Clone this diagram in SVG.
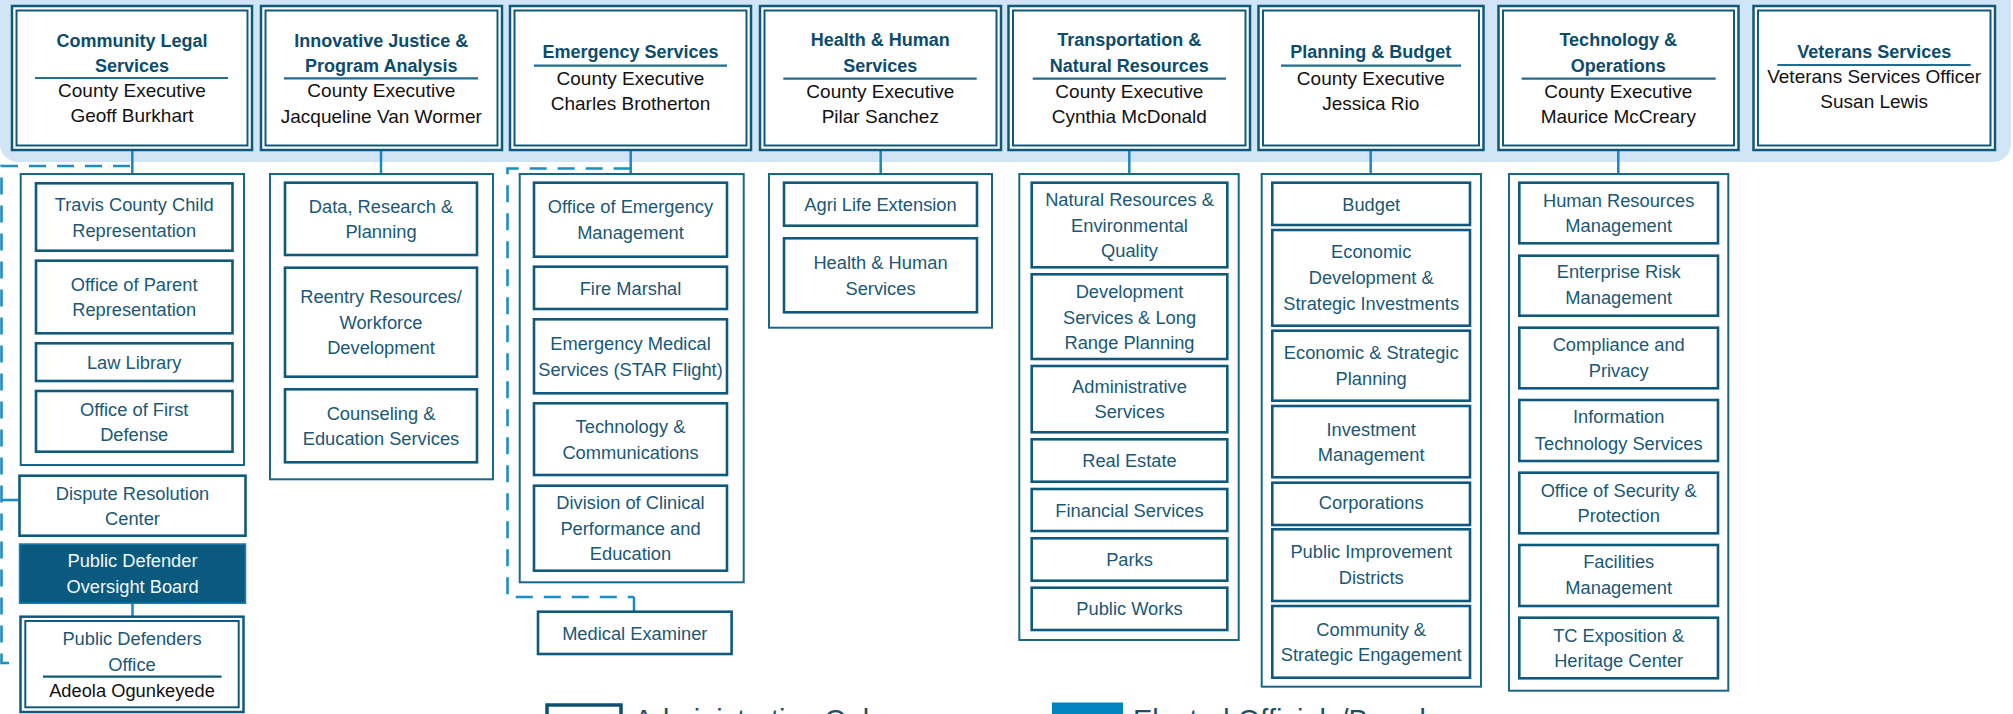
<svg xmlns="http://www.w3.org/2000/svg" width="2013" height="714" viewBox="0 0 2013 714">
<style>
text{font-family:"Liberation Sans",Arial,sans-serif;text-anchor:middle}
.ho{fill:#fff;stroke:#0f5a7c;stroke-width:2.5}
.hi{fill:#fff;stroke:#0f5a7c;stroke-width:2}
.ttl{font-size:18px;font-weight:bold;fill:#0d4c6b}
.ex{font-size:19px;fill:#111}
.ul{stroke:#1f6d8f;stroke-width:2.2}
.grp{fill:#fff;stroke:#18678a;stroke-width:2}
.ch{fill:#fff;stroke:#0f5a7c;stroke-width:2.6}
.ct{font-size:18.3px;fill:#1a5876}
.con{fill:none;stroke:#1b87bd;stroke-width:2.5}
.dash{fill:none;stroke:#1e8cc4;stroke-width:2.6;stroke-dasharray:17 11}
.blk{stroke:#111;stroke-width:2}
.lg{font-size:29px;fill:#1e4f66;text-anchor:start}
</style>
<rect id="band" x="0" y="-30" width="2011" height="192" rx="18" fill="#d2e5f6"/>
<g id="connectors">
<line class="con" x1="132.3" y1="150" x2="132.3" y2="174"/>
<line class="con" x1="381" y1="150" x2="381" y2="174"/>
<line class="con" x1="630.7" y1="150" x2="630.7" y2="174"/>
<line class="con" x1="880.7" y1="150" x2="880.7" y2="174"/>
<line class="con" x1="1129.3" y1="150" x2="1129.3" y2="174"/>
<line class="con" x1="1370.7" y1="150" x2="1370.7" y2="174"/>
<line class="con" x1="1618.3" y1="150" x2="1618.3" y2="174"/>
<path class="dash" d="M130,166 H1.5 V663 H20.5"/>
<line class="dash" x1="1.5" y1="500" x2="19.5" y2="500"/>
<path class="dash" d="M630.7,168.5 H507.5 V597 H634"/>
<line class="con" x1="634" y1="597" x2="634" y2="612"/>
<line class="con" x1="132.5" y1="603" x2="132.5" y2="617"/>
<line class="blk" x1="1618.7" y1="315.7" x2="1618.7" y2="327.7"/>
<line class="blk" x1="1618.7" y1="606" x2="1618.7" y2="617.7"/>
</g>
<g id="community-legal">
<rect class="ho" x="12" y="6" width="240" height="144"/><rect class="hi" x="16.5" y="10.5" width="231" height="135"/>
<text class="ttl" x="132" y="46.7">Community Legal</text><text class="ttl" x="132" y="71.7">Services</text>
<line class="ul" x1="35" y1="78" x2="228" y2="78"/>
<text class="ex" x="132" y="96.7">County Executive</text><text class="ex" x="132" y="122.3">Geoff Burkhart</text>
</g>
<g id="innovative-justice">
<rect class="ho" x="261" y="6" width="241" height="144"/><rect class="hi" x="265.5" y="10.5" width="232" height="135"/>
<text class="ttl" x="381.3" y="46.7">Innovative Justice &amp;</text><text class="ttl" x="381.3" y="71.7">Program Analysis</text>
<line class="ul" x1="284" y1="78.3" x2="478" y2="78.3"/>
<text class="ex" x="381.3" y="97">County Executive</text><text class="ex" x="381.3" y="122.5">Jacqueline Van Wormer</text>
</g>
<g id="emergency-services">
<rect class="ho" x="510" y="6" width="241" height="144"/><rect class="hi" x="514.5" y="10.5" width="232" height="135"/>
<text class="ttl" x="630.5" y="58.3">Emergency Services</text>
<line class="ul" x1="534" y1="65.7" x2="727" y2="65.7"/>
<text class="ex" x="630.5" y="85">County Executive</text><text class="ex" x="630.5" y="110">Charles Brotherton</text>
</g>
<g id="health-human-services">
<rect class="ho" x="760" y="6" width="241" height="144"/><rect class="hi" x="764.5" y="10.5" width="232" height="135"/>
<text class="ttl" x="880.3" y="46.3">Health &amp; Human</text><text class="ttl" x="880.3" y="71.7">Services</text>
<line class="ul" x1="783.3" y1="78.7" x2="976.7" y2="78.7"/>
<text class="ex" x="880.3" y="97.7">County Executive</text><text class="ex" x="880.3" y="122.7">Pilar Sanchez</text>
</g>
<g id="transportation">
<rect class="ho" x="1008.5" y="6" width="241.5" height="144"/><rect class="hi" x="1013" y="10.5" width="232.5" height="135"/>
<text class="ttl" x="1129.3" y="46.3">Transportation &amp;</text><text class="ttl" x="1129.3" y="71.7">Natural Resources</text>
<line class="ul" x1="1032.7" y1="78.7" x2="1226" y2="78.7"/>
<text class="ex" x="1129.3" y="97.7">County Executive</text><text class="ex" x="1129.3" y="122.7">Cynthia McDonald</text>
</g>
<g id="planning-budget">
<rect class="ho" x="1258.5" y="6" width="225" height="144"/><rect class="hi" x="1263" y="10.5" width="216" height="135"/>
<text class="ttl" x="1370.8" y="58.3">Planning &amp; Budget</text>
<line class="ul" x1="1281" y1="65.7" x2="1461" y2="65.7"/>
<text class="ex" x="1370.8" y="85">County Executive</text><text class="ex" x="1370.8" y="110">Jessica Rio</text>
</g>
<g id="technology-operations">
<rect class="ho" x="1498.5" y="6" width="240" height="144"/><rect class="hi" x="1503" y="10.5" width="231" height="135"/>
<text class="ttl" x="1618.3" y="46.3">Technology &amp;</text><text class="ttl" x="1618.3" y="71.7">Operations</text>
<line class="ul" x1="1521.7" y1="78.7" x2="1715.7" y2="78.7"/>
<text class="ex" x="1618.3" y="97.7">County Executive</text><text class="ex" x="1618.3" y="122.7">Maurice McCreary</text>
</g>
<g id="veterans-services">
<rect class="ho" x="1753.5" y="6" width="241.5" height="144"/><rect class="hi" x="1758" y="10.5" width="232.5" height="135"/>
<text class="ttl" x="1874.2" y="58.3">Veterans Services</text>
<line class="ul" x1="1777.3" y1="65" x2="1970.7" y2="65"/>
<text class="ex" x="1874.2" y="83.3">Veterans Services Officer</text><text class="ex" x="1874.2" y="108.3">Susan Lewis</text>
</g>
<g id="cl-group">
<rect class="grp" x="20.7" y="174" width="223.3" height="291"/>
<rect class="ch" x="36" y="183.3" width="196.5" height="67.4"/><text class="ct" x="134.2" y="211">Travis County Child</text><text class="ct" x="134.2" y="236.5">Representation</text>
<rect class="ch" x="36" y="260.7" width="196.5" height="72.6"/><text class="ct" x="134.2" y="290.7">Office of Parent</text><text class="ct" x="134.2" y="315.5">Representation</text>
<rect class="ch" x="36" y="343.3" width="196.5" height="37.7"/><text class="ct" x="134.2" y="368.5">Law Library</text>
<rect class="ch" x="36" y="391" width="196.5" height="60.7"/><text class="ct" x="134.2" y="415.5">Office of First</text><text class="ct" x="134.2" y="440.7">Defense</text>
</g>
<g id="dispute-resolution">
<rect class="ch" x="19.5" y="475.7" width="226" height="60"/><text class="ct" x="132.5" y="499.5">Dispute Resolution</text><text class="ct" x="132.5" y="525">Center</text>
</g>
<g id="pd-oversight-board">
<rect x="19.5" y="544" width="226" height="59.3" fill="#0a5a80" stroke="#1b7fb3" stroke-width="1.5"/><text class="ct" x="132.5" y="567" style="fill:#f2f7fa">Public Defender</text><text class="ct" x="132.5" y="592.7" style="fill:#f2f7fa">Oversight Board</text>
</g>
<g id="public-defenders-office">
<rect class="ho" x="20.5" y="616.7" width="223" height="95.3"/><rect class="hi" x="25.3" y="621" width="213.4" height="86.3"/>
<text class="ct" x="132" y="645">Public Defenders</text><text class="ct" x="132" y="670.7">Office</text>
<line class="ul" x1="43" y1="676.7" x2="221.6" y2="676.7" style="stroke:#0f5a7c"/>
<text class="ct" x="132" y="696.5" style="fill:#111">Adeola Ogunkeyede</text>
</g>
<g id="ij-group">
<rect class="grp" x="270" y="174" width="223" height="305.3"/>
<rect class="ch" x="285" y="182.7" width="192" height="72.3"/><text class="ct" x="381" y="212.7">Data, Research &amp;</text><text class="ct" x="381" y="238.3">Planning</text>
<rect class="ch" x="285" y="267.7" width="192" height="109"/><text class="ct" x="381" y="303.3">Reentry Resources/</text><text class="ct" x="381" y="328.5">Workforce</text><text class="ct" x="381" y="353.5">Development</text>
<rect class="ch" x="285" y="389.3" width="192" height="73"/><text class="ct" x="381" y="420">Counseling &amp;</text><text class="ct" x="381" y="445">Education Services</text>
</g>
<g id="es-group">
<rect class="grp" x="519.7" y="174" width="224" height="408.3"/>
<rect class="ch" x="534" y="182.7" width="193" height="74"/><text class="ct" x="630.5" y="213.3">Office of Emergency</text><text class="ct" x="630.5" y="239.3">Management</text>
<rect class="ch" x="534" y="266.7" width="193" height="42.3"/><text class="ct" x="630.5" y="295">Fire Marshal</text>
<rect class="ch" x="534" y="319.3" width="193" height="74"/><text class="ct" x="630.5" y="350">Emergency Medical</text><text class="ct" x="630.5" y="376">Services (STAR Flight)</text>
<rect class="ch" x="534" y="403.3" width="193" height="71.7"/><text class="ct" x="630.5" y="433.3">Technology &amp;</text><text class="ct" x="630.5" y="458.5">Communications</text>
<rect class="ch" x="534" y="485.7" width="193" height="85"/><text class="ct" x="630.5" y="509">Division of Clinical</text><text class="ct" x="630.5" y="534.5">Performance and</text><text class="ct" x="630.5" y="560">Education</text>
</g>
<g id="medical-examiner">
<rect class="ch" x="538" y="611.7" width="193.6" height="42.3"/><text class="ct" x="634.8" y="640">Medical Examiner</text>
</g>
<g id="hh-group">
<rect class="grp" x="769" y="174" width="223" height="153.7"/>
<rect class="ch" x="784" y="182.7" width="193" height="43"/><text class="ct" x="880.5" y="211">Agri Life Extension</text>
<rect class="ch" x="784" y="238.3" width="193" height="74"/><text class="ct" x="880.5" y="269">Health &amp; Human</text><text class="ct" x="880.5" y="295">Services</text>
</g>
<g id="tn-group">
<rect class="grp" x="1019.3" y="174" width="219.4" height="466"/>
<rect class="ch" x="1031.7" y="182.7" width="195.6" height="84.6"/><text class="ct" x="1129.5" y="206">Natural Resources &amp;</text><text class="ct" x="1129.5" y="231.7">Environmental</text><text class="ct" x="1129.5" y="256.7">Quality</text>
<rect class="ch" x="1031.7" y="274.3" width="195.6" height="84.7"/><text class="ct" x="1129.5" y="298">Development</text><text class="ct" x="1129.5" y="323.5">Services &amp; Long</text><text class="ct" x="1129.5" y="349">Range Planning</text>
<rect class="ch" x="1031.7" y="366" width="195.6" height="66.3"/><text class="ct" x="1129.5" y="392.7">Administrative</text><text class="ct" x="1129.5" y="417.7">Services</text>
<rect class="ch" x="1031.7" y="439.3" width="195.6" height="42.4"/><text class="ct" x="1129.5" y="466.7">Real Estate</text>
<rect class="ch" x="1031.7" y="489" width="195.6" height="42"/><text class="ct" x="1129.5" y="516.7">Financial Services</text>
<rect class="ch" x="1031.7" y="538.3" width="195.6" height="42.4"/><text class="ct" x="1129.5" y="566">Parks</text>
<rect class="ch" x="1031.7" y="587.7" width="195.6" height="42.3"/><text class="ct" x="1129.5" y="615">Public Works</text>
</g>
<g id="pb-group">
<rect class="grp" x="1261.7" y="174" width="219.3" height="512.7"/>
<rect class="ch" x="1272.3" y="182.7" width="197.7" height="42.3"/><text class="ct" x="1371.2" y="211">Budget</text>
<rect class="ch" x="1272.3" y="230" width="197.7" height="95.7"/><text class="ct" x="1371.2" y="258.3">Economic</text><text class="ct" x="1371.2" y="284">Development &amp;</text><text class="ct" x="1371.2" y="310">Strategic Investments</text>
<rect class="ch" x="1272.3" y="330.7" width="197.7" height="70"/><text class="ct" x="1371.2" y="359.3">Economic &amp; Strategic</text><text class="ct" x="1371.2" y="385">Planning</text>
<rect class="ch" x="1272.3" y="406" width="197.7" height="71.3"/><text class="ct" x="1371.2" y="436">Investment</text><text class="ct" x="1371.2" y="460.5">Management</text>
<rect class="ch" x="1272.3" y="482.7" width="197.7" height="42.3"/><text class="ct" x="1371.2" y="509.3">Corporations</text>
<rect class="ch" x="1272.3" y="529.3" width="197.7" height="71.7"/><text class="ct" x="1371.2" y="558.3">Public Improvement</text><text class="ct" x="1371.2" y="584.3">Districts</text>
<rect class="ch" x="1272.3" y="606" width="197.7" height="71.7"/><text class="ct" x="1371.2" y="636">Community &amp;</text><text class="ct" x="1371.2" y="660.7">Strategic Engagement</text>
</g>
<g id="to-group">
<rect class="grp" x="1509" y="174" width="219.3" height="516.7"/>
<rect class="ch" x="1519.3" y="182.7" width="198.7" height="60.6"/><text class="ct" x="1618.7" y="206.7">Human Resources</text><text class="ct" x="1618.7" y="232.3">Management</text>
<rect class="ch" x="1519.3" y="255.7" width="198.7" height="60"/><text class="ct" x="1618.7" y="278.3">Enterprise Risk</text><text class="ct" x="1618.7" y="304">Management</text>
<rect class="ch" x="1519.3" y="327.7" width="198.7" height="60.6"/><text class="ct" x="1618.7" y="351">Compliance and</text><text class="ct" x="1618.7" y="376.7">Privacy</text>
<rect class="ch" x="1519.3" y="400" width="198.7" height="61"/><text class="ct" x="1618.7" y="423.3">Information</text><text class="ct" x="1618.7" y="450">Technology Services</text>
<rect class="ch" x="1519.3" y="472.7" width="198.7" height="60.6"/><text class="ct" x="1618.7" y="496.7">Office of Security &amp;</text><text class="ct" x="1618.7" y="521.7">Protection</text>
<rect class="ch" x="1519.3" y="545" width="198.7" height="61"/><text class="ct" x="1618.7" y="568.3">Facilities</text><text class="ct" x="1618.7" y="594">Management</text>
<rect class="ch" x="1519.3" y="617.7" width="198.7" height="60.6"/><text class="ct" x="1618.7" y="641.7">TC Exposition &amp;</text><text class="ct" x="1618.7" y="666.7">Heritage Center</text>
</g>
<g id="legend">
<rect x="547" y="705" width="74" height="30" fill="#fff" stroke="#0f4f6e" stroke-width="3.5"/>
<text class="lg" x="634" y="730">Administrative Only</text>
<rect x="1052" y="702.5" width="71" height="30" fill="#0083bf"/>
<text class="lg" x="1133" y="730">Elected Officials/Boards</text>
</g>
</svg>
